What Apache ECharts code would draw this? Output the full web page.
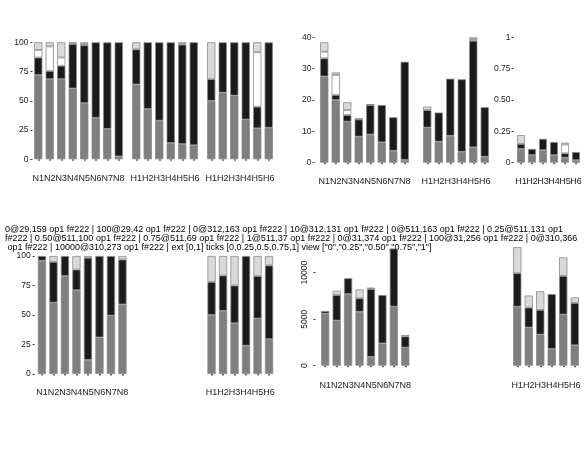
<!DOCTYPE html>
<html>
<head>
<meta charset="utf-8">
<script src="https://cdn.jsdelivr.net/npm/echarts@6/dist/echarts.min.js"></script>
<style>
  html, body { margin: 0; padding: 0; background: #fff; }
  #chart { width: 587px; height: 469px; }
</style>
</head>
<body>
<div id="chart"></div>
<script>
const natCats = ['N1', 'N2', 'N3', 'N4', 'N5', 'N6', 'N7', 'N8'];
const harvCats = ['H1', 'H2', 'H3', 'H4', 'H5', 'H6'];
const species = ['Balsam fir', 'Black spruce', 'White spruce', 'Hardwoods'];
const speciesColors = ['#7f7f7f', '#1b1b1b', '#ffffff', '#d9d9d9'];
const postAbsTicks = [0, 0.25, 0.5, 0.75, 1];
const stemsTicks = [0, 5000, 10000];
const canopyRelNatural = [
  [72, 68.5, 68.5, 60.5, 48, 35.5, 26, 2.5],
  [15, 7, 11.5, 38, 49.5, 64.5, 74, 97.5],
  [6.5, 21, 7, 0.5, 1, 0, 0, 0],
  [6.5, 3.5, 13, 1, 1.5, 0, 0, 0]
];
const canopyRelPre = [
  [64, 43, 33, 14, 13, 12],
  [30, 57, 67, 86, 85, 88],
  [0, 0, 0, 0, 1, 0],
  [6, 0, 0, 0, 1, 0]
];
const canopyRelPost = [
  [50, 57, 54.5, 34, 26.5, 27],
  [18.5, 43, 45.5, 66, 18.5, 73],
  [0, 0, 0, 0, 46.5, 0],
  [31.5, 0, 0, 0, 8.5, 0]
];
const canopyAbsNatural = [
  [27.5, 20, 13.1, 8.3, 9, 6.5, 3.8, 0.9],
  [5.8, 1.6, 2.1, 5.5, 9.4, 11.9, 10.7, 31.3],
  [2.1, 6.4, 1.6, 0.1, 0.1, 0, 0, 0],
  [3, 0.8, 2.5, 0.2, 0.1, 0, 0, 0]
];
const canopyAbsPre = [
  [11.2, 6.7, 8.6, 3.5, 4.9, 1.9],
  [5.6, 9.3, 18.2, 23.1, 34, 15.8],
  [0, 0, 0, 0, 0.5, 0],
  [1.1, 0, 0, 0, 0.6, 0]
];
const canopyAbsPost = [
  [0.11, 0.06, 0.1, 0.06, 0.04, 0.02],
  [0.04, 0.05, 0.09, 0.105, 0.035, 0.065],
  [0, 0, 0, 0, 0.07, 0],
  [0.07, 0, 0, 0, 0.015, 0]
];
const regenRelNatural = [
  [96, 60.5, 83, 71, 12, 31, 49.5, 59],
  [4, 34.5, 17, 17.5, 86.5, 69, 50.5, 38],
  [0, 0, 0, 0, 0, 0, 0, 0],
  [0, 5, 0, 11.5, 1.5, 0, 0, 3]
];
const regenRelPost = [
  [50, 53.5, 43, 24, 47, 29.5],
  [28, 30, 32, 76, 36, 62.5],
  [0, 0, 0, 0, 0, 0],
  [22, 16.5, 25, 0, 17, 8]
];
const regenAbsNatural = [
  [5600, 4850, 7700, 5800, 950, 2400, 6350, 1950],
  [280, 2750, 1700, 1450, 7300, 5200, 6250, 1200],
  [0, 0, 0, 0, 0, 0, 0, 0],
  [0, 450, 0, 950, 150, 0, 0, 150]
];
const regenAbsPost = [
  [6350, 4100, 3350, 1800, 5500, 2200],
  [3600, 2150, 2650, 5900, 4150, 4550],
  [0, 0, 0, 0, 0, 0],
  [2800, 1300, 2000, 0, 2000, 600]
];
const FONT = 'Liberation Sans, Arial, sans-serif';
const INK = '#222';
const postAbsFmt = v => (v === 0 ? '0' : v === 1 ? '1' : v.toFixed(2));
const panels = [
  { rows: canopyRelNatural, cats: natCats, grid: { left: 32.5, top: 42.3, width: 92, height: 117 },
    y: { max: 100, interval: 25, show: true, offset: 0, margin: 4 }, x: { offset: 6, margin: 9 } },
  { rows: canopyRelPre, cats: harvCats, grid: { left: 130.5, top: 42.3, width: 69, height: 117 },
    y: { max: 100 }, x: { offset: 6, margin: 9 } },
  { rows: canopyRelPost, cats: harvCats, grid: { left: 205.5, top: 42.3, width: 69, height: 117 },
    y: { max: 100 }, x: { offset: 6, margin: 9 } },
  { rows: canopyAbsNatural, cats: natCats, grid: { left: 318.5, top: 37.3, width: 92, height: 125.4 },
    y: { max: 40, interval: 10, show: true, offset: 4, margin: 3 }, x: { offset: 5, margin: 9 } },
  { rows: canopyAbsPre, cats: harvCats, grid: { left: 421.5, top: 37.3, width: 69, height: 125.4 },
    y: { max: 40 }, x: { offset: 5, margin: 9 } },
  { rows: canopyAbsPost, cats: harvCats, grid: { left: 515.5, top: 37.3, width: 66, height: 125.4 },
    y: { max: 1, interval: 0.25, show: true, offset: 2, margin: 3, fmt: postAbsFmt, ticks: postAbsTicks },
    x: { offset: 5, margin: 9 } },
  { rows: regenRelNatural, cats: natCats, grid: { left: 36.2, top: 256, width: 92, height: 118 },
    y: { max: 100, interval: 25, show: true, offset: 1.5, margin: 4 }, x: { offset: 6, margin: 8.5 } },
  { rows: regenRelPost, cats: harvCats, grid: { left: 205.8, top: 256, width: 69, height: 118 },
    y: { max: 100 }, x: { offset: 6, margin: 8.5 } },
  { rows: regenAbsNatural, cats: natCats, grid: { left: 319.5, top: 226.2, width: 91.5, height: 139.5 },
    y: { max: 15000, interval: 5000, show: true, offset: 4, margin: 6, rotate: 90, ticks: stemsTicks },
    x: { offset: 7, margin: 8.5 } },
  { rows: regenAbsPost, cats: harvCats, grid: { left: 511.5, top: 226.2, width: 69, height: 139.5 },
    y: { max: 15000 }, x: { offset: 7, margin: 8.5 } }
];
const grids = [], xAxes = [], yAxes = [], series = [];
panels.forEach((p, i) => {
  grids.push(Object.assign({ containLabel: false }, p.grid));
  xAxes.push({
    type: 'category', gridIndex: i, data: p.cats, offset: p.x.offset,
    axisLine: { show: false },
    axisTick: { show: true, alignWithLabel: true, interval: 0, length: 1.5, lineStyle: { color: '#333', width: 1.5 } },
    axisLabel: { interval: 0, fontSize: 9, fontFamily: FONT, color: INK, margin: p.x.margin }
  });
  if (p.y.show) {
    const custom = p.y.ticks ? { customValues: p.y.ticks } : {};
    yAxes.push({
      type: 'value', gridIndex: i, min: 0, max: p.y.max, interval: p.y.interval, offset: p.y.offset,
      axisLine: { show: false },
      axisTick: Object.assign({ show: true, length: 2, lineStyle: { color: '#333', width: 1 } }, custom),
      splitLine: { show: false },
      axisLabel: Object.assign({
        fontSize: 8.5, fontFamily: FONT, color: INK, margin: p.y.margin, hideOverlap: false,
        rotate: p.y.rotate || 0,
        formatter: p.y.fmt || (v => String(v))
      }, custom)
    });
  } else {
    yAxes.push({ type: 'value', gridIndex: i, min: 0, max: p.y.max, show: false });
  }
  p.rows.forEach((row, s) => {
    series.push({
      type: 'bar', name: species[s], xAxisIndex: i, yAxisIndex: i, stack: 'p' + i,
      barWidth: '72%',
      data: row.map(v => (v === 0 ? '-' : v)),
      itemStyle: { color: speciesColors[s], borderColor: '#8c8c8c', borderWidth: 0.8 }
    });
  });
});
const chart = echarts.init(document.getElementById('chart'), null, { renderer: 'canvas' });
chart.setOption({
  animation: false, backgroundColor: '#fff', textStyle: { fontFamily: FONT },
  grid: grids, xAxis: xAxes, yAxis: yAxes, series: series
});
const lab = [];
chart.getZr().storage.getDisplayList(true).forEach(el => {
  if (el.style && el.style.text != null && /^[01]/.test(String(el.style.text))) {
    const r = el.getBoundingRect();
    const t = el.transform || [1, 0, 0, 1, el.x, el.y];
    lab.push(el.style.text + '@' + Math.round(t[4]) + ',' + Math.round(t[5]) + (el.invisible ? 'INV' : '') + (el.ignore ? 'IGN' : '') + ' op' + el.style.opacity + ' f' + el.style.fill);
  }
});
const ax = chart.getModel().getComponent('yAxis', 5).axis;
lab.push('ext ' + JSON.stringify(ax.scale.getExtent()) + ' ticks ' + JSON.stringify(ax.scale.getTicks().map(t => t.value)) + ' view ' + JSON.stringify(ax.getViewLabels().map(l => l.formattedLabel)));
chart.setOption({ graphic: [{ type: 'rect', shape: { x: 0, y: 220, width: 587, height: 249 }, style: { fill: '#fff' } },
  { type: 'text', x: 5, y: 225, style: { text: lab.join(' | '), fontSize: 9, width: 575, overflow: 'break' } }] });
</script>
</body>
</html>
